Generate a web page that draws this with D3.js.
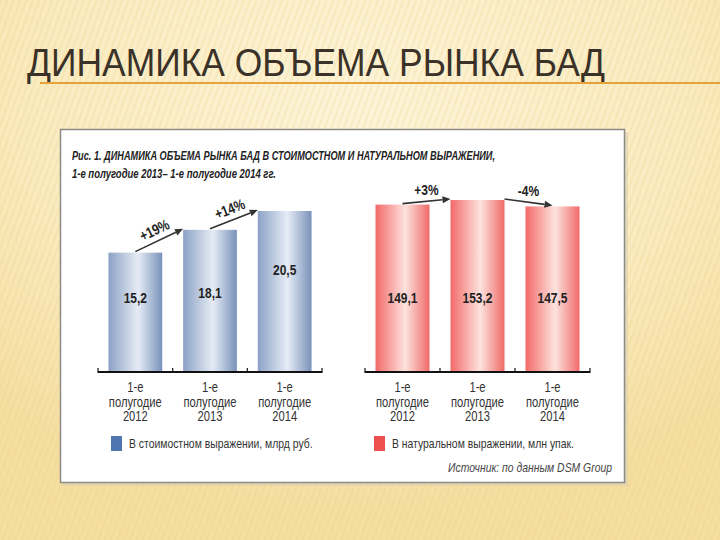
<!DOCTYPE html>
<html>
<head>
<meta charset="utf-8">
<script src="https://cdn.jsdelivr.net/npm/d3@7"></script>
<style>
  body { margin: 0; padding: 0; }
  svg { display: block; }
</style>
</head>
<body>
<div id="chart"></div>
<script>
// Data
const periods = ["2012", "2013", "2014"];
const valueRub = [15.2, 18.1, 20.5];
const valuePacks = [149.1, 153.2, 147.5];
const changeRub = ["+19%", "+14%"];
const changePacks = ["+3%", "-4%"];
const valueLabelsRub = ["15,2", "18,1", "20,5"];
const valueLabelsPacks = ["149,1", "153,2", "147,5"];

const width = 720, height = 540;
const font = "'Liberation Sans', Arial, sans-serif";
const squeeze = 0.8; // stand-in for a narrow typeface

let svg = d3.select("#chart").append("svg")
  .attr("width", width)
  .attr("height", height);

let defs = svg.append("defs");

// narrow text helper: squeezes the glyphs horizontally around (x, y)
function narrowText(parent, x, y, str, extraTransform) {
  return parent.append("text")
    .attr("transform", `translate(${x},${y}) ${extraTransform || ""} scale(${squeeze},1)`)
    .attr("font-family", font)
    .text(str);
}

// slide background
let bg = defs.append("radialGradient").attr("id", "bg")
  .attr("cx", "50%").attr("cy", "20%").attr("r", "75%");
bg.append("stop").attr("offset", "0%").attr("stop-color", "#fdf4d8");
bg.append("stop").attr("offset", "60%").attr("stop-color", "#faebc0");
bg.append("stop").attr("offset", "100%").attr("stop-color", "#f5dea0");

let stripes = defs.append("pattern").attr("id", "stripes")
  .attr("width", 6).attr("height", 6)
  .attr("patternUnits", "userSpaceOnUse")
  .attr("patternTransform", "rotate(20)");
stripes.append("rect").attr("width", 2).attr("height", 6)
  .attr("fill", "#e8c878").attr("opacity", 0.2);

svg.append("rect").attr("width", width).attr("height", height).attr("fill", "url(#bg)");
svg.append("rect").attr("width", width).attr("height", height).attr("fill", "url(#stripes)");

// slide title
svg.append("text")
  .attr("x", 27).attr("y", 76)
  .attr("font-family", font)
  .attr("font-size", 39)
  .attr("fill", "#3a3128")
  .attr("textLength", 578)
  .attr("lengthAdjust", "spacingAndGlyphs")
  .text("ДИНАМИКА ОБЪЕМА РЫНКА БАД");

svg.append("line")
  .attr("x1", 40).attr("x2", 720).attr("y1", 83).attr("y2", 83)
  .attr("stroke", "#e6a23a").attr("stroke-width", 2);

// white picture box
svg.append("rect")
  .attr("x", 63).attr("y", 132).attr("width", 565).attr("height", 354)
  .attr("fill", "#d9d0b4").attr("opacity", 0.6);
svg.append("rect")
  .attr("x", 60.5).attr("y", 129.5).attr("width", 564).attr("height", 353)
  .attr("fill", "#ffffff").attr("stroke", "#8a8a86").attr("stroke-width", 1.5);

// chart heading
svg.append("text")
  .attr("x", 72).attr("y", 160)
  .attr("font-family", font).attr("font-size", 13)
  .attr("font-weight", "bold").attr("font-style", "italic")
  .attr("fill", "#222")
  .attr("textLength", 423).attr("lengthAdjust", "spacingAndGlyphs")
  .text("Рис. 1. ДИНАМИКА ОБЪЕМА РЫНКА БАД В СТОИМОСТНОМ И НАТУРАЛЬНОМ ВЫРАЖЕНИИ,");
svg.append("text")
  .attr("x", 72).attr("y", 178)
  .attr("font-family", font).attr("font-size", 13)
  .attr("font-weight", "bold").attr("font-style", "italic")
  .attr("fill", "#222")
  .attr("textLength", 204).attr("lengthAdjust", "spacingAndGlyphs")
  .text("1-е полугодие 2013– 1-е полугодие 2014 гг.");

// bar gradients
function barGradient(id, edgeL, mid, edgeR) {
  let g = defs.append("linearGradient").attr("id", id)
    .attr("x1", "0%").attr("x2", "100%").attr("y1", "0%").attr("y2", "0%");
  g.append("stop").attr("offset", "0%").attr("stop-color", edgeL);
  g.append("stop").attr("offset", "55%").attr("stop-color", mid);
  g.append("stop").attr("offset", "100%").attr("stop-color", edgeR);
}
barGradient("gradBlue", "#8ba2c6", "#e6ecf5", "#7892ba");
barGradient("gradRed", "#f26a68", "#fde3de", "#f06a68");

const baseline = 372;

function panel(opts) {
  let x = d3.scaleBand()
    .domain(periods)
    .range(opts.range)
    .paddingInner(0.28)
    .paddingOuter(0.14);

  let y = d3.scaleLinear()
    .domain([0, d3.max(opts.values)])
    .range([baseline, opts.top]);

  let g = svg.append("g");

  // bars
  g.selectAll("rect.bar")
    .data(opts.values)
    .join("rect")
    .attr("class", "bar")
    .attr("x", (d, i) => x(periods[i]))
    .attr("y", d => y(d))
    .attr("width", x.bandwidth())
    .attr("height", d => baseline - y(d))
    .attr("fill", opts.fill);

  // value labels
  opts.values.forEach((d, i) => {
    narrowText(g, x(periods[i]) + x.bandwidth() / 2, opts.labelY[i], opts.labels[i])
      .attr("text-anchor", "middle")
      .attr("font-size", 15).attr("font-weight", "bold")
      .attr("fill", "#222");
  });

  // axis
  let r = x.range();
  g.append("line")
    .attr("x1", r[0]).attr("x2", r[1])
    .attr("y1", baseline).attr("y2", baseline)
    .attr("stroke", "#111").attr("stroke-width", 2);
  let step = x.step();
  let tickXs = [r[0], x(periods[1]) - step * 0.14, x(periods[2]) - step * 0.14, r[1]];
  g.selectAll("line.tick")
    .data(tickXs)
    .join("line")
    .attr("class", "tick")
    .attr("x1", d => d).attr("x2", d => d)
    .attr("y1", baseline - 4).attr("y2", baseline + 1)
    .attr("stroke", "#111").attr("stroke-width", 1.2);

  // category labels
  periods.forEach(p => {
    let cx = x(p) + x.bandwidth() / 2;
    [["1-е", 392], ["полугодие", 407], [p, 421]].forEach(([s, ty]) => {
      narrowText(g, cx, ty, s)
        .attr("text-anchor", "middle")
        .attr("font-size", 14)
        .attr("fill", "#333");
    });
  });

  // change arrows
  for (let i = 0; i < 2; i++) {
    let a = opts.values[i], b = opts.values[i + 1];
    let x0, x1;
    if (b >= a) {
      x0 = x(periods[i]) + x.bandwidth() / 2;
      x1 = x(periods[i + 1]);
    } else {
      x0 = x(periods[i]) + x.bandwidth();
      x1 = x(periods[i + 1]) + x.bandwidth() / 2;
    }
    let y0 = y(a) - 1, y1 = y(b) - 1;
    let ang = Math.atan2(y1 - y0, x1 - x0);
    let hl = 8, hw = 3.5;
    let bx = x1 - hl * Math.cos(ang), by = y1 - hl * Math.sin(ang);
    g.append("line")
      .attr("x1", x0).attr("y1", y0).attr("x2", bx).attr("y2", by)
      .attr("stroke", "#333").attr("stroke-width", 1.6);
    g.append("path")
      .attr("d", `M${x1},${y1} L${bx - hw * Math.sin(ang)},${by + hw * Math.cos(ang)} L${bx + hw * Math.sin(ang)},${by - hw * Math.cos(ang)} Z`)
      .attr("fill", "#333");
    let mx = (x0 + x1) / 2, my = (y0 + y1) / 2;
    let deg = opts.rotateLabels ? ang * 180 / Math.PI : 0;
    narrowText(g, mx, my, opts.changes[i], `rotate(${deg}) translate(0,-6)`)
      .attr("text-anchor", "middle")
      .attr("font-size", 15).attr("font-weight", "bold")
      .attr("fill", "#222");
  }

  // legend
  svg.append("rect")
    .attr("x", opts.legendX).attr("y", 436).attr("width", 11).attr("height", 15)
    .attr("fill", opts.swatch);
  narrowText(svg, opts.legendX + 18, 448, opts.legend)
    .attr("font-size", 13)
    .attr("fill", "#333");
}

panel({
  range: [98, 322],
  top: 211,
  values: valueRub,
  labels: valueLabelsRub,
  labelY: [303, 298, 275],
  changes: changeRub,
  rotateLabels: true,
  fill: "url(#gradBlue)",
  swatch: "#4f76b0",
  legendX: 111,
  legend: "В стоимостном выражении, млрд руб."
});

panel({
  range: [365, 590],
  top: 200,
  values: valuePacks,
  labels: valueLabelsPacks,
  labelY: [303, 303, 303],
  changes: changePacks,
  rotateLabels: false,
  fill: "url(#gradRed)",
  swatch: "#ee4f4f",
  legendX: 374,
  legend: "В натуральном выражении, млн упак."
});

// source note
narrowText(svg, 612, 472, "Источник: по данным DSM Group")
  .attr("text-anchor", "end")
  .attr("font-size", 13).attr("font-style", "italic")
  .attr("fill", "#444");
</script>
</body>
</html>
